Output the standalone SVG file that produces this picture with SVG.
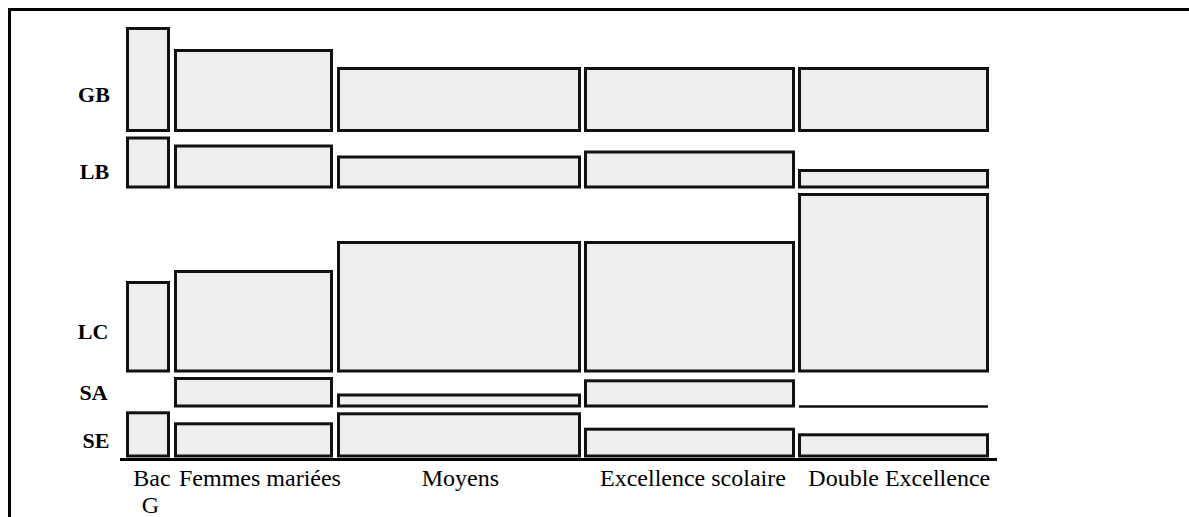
<svg xmlns="http://www.w3.org/2000/svg" width="1189" height="517" viewBox="0 0 1189 517">
<style>
.cell{fill:#eeeeee;stroke:#111111;stroke-width:3}
</style>
<rect width="1189" height="517" fill="#ffffff"/>
<path d="M9.5,517 V9.5 H1189" fill="none" stroke="#000" stroke-width="3"/>
<g id="row-labels" font-family="Liberation Serif, serif" font-weight="bold" font-size="22" text-anchor="middle" fill="#000">
<text x="94" y="101.7">GB</text>
<text x="94.5" y="179.3">LB</text>
<text x="93" y="339.3">LC</text>
<text x="93.5" y="400">SA</text>
<text x="96" y="448.3">SE</text>
</g>
<g font-family="Liberation Serif, serif" font-size="24" fill="#000">
<g id="col-bac">
<rect class="cell" x="127.5" y="28.5" width="41" height="102"/>
<rect class="cell" x="127.5" y="138" width="41" height="49"/>
<rect class="cell" x="127.5" y="282.5" width="41" height="88.5"/>
<rect class="cell" x="127.5" y="412.8" width="41" height="43.2"/>
<text x="133.3" y="485.7">Bac</text>
<text x="141.7" y="513">G</text>
</g>
<g id="col-femmes">
<rect class="cell" x="175.5" y="50.5" width="156" height="80"/>
<rect class="cell" x="175.5" y="146" width="156" height="41"/>
<rect class="cell" x="175.5" y="271.5" width="156" height="99.5"/>
<rect class="cell" x="175.5" y="378.5" width="156" height="27.5"/>
<rect class="cell" x="175.5" y="423.8" width="156" height="32.2"/>
<text x="179" y="485.7">Femmes mariées</text>
</g>
<g id="col-moyens">
<rect class="cell" x="338.5" y="68.5" width="241" height="62"/>
<rect class="cell" x="338.5" y="157" width="241" height="30"/>
<rect class="cell" x="338.5" y="242.5" width="241" height="128.5"/>
<rect class="cell" x="338.5" y="395" width="241" height="11"/>
<rect class="cell" x="338.5" y="413.8" width="241" height="42.2"/>
<text x="421.7" y="485.7">Moyens</text>
</g>
<g id="col-excellence">
<rect class="cell" x="585.5" y="68.5" width="208" height="62"/>
<rect class="cell" x="585.5" y="152" width="208" height="35"/>
<rect class="cell" x="585.5" y="242.5" width="208" height="128.5"/>
<rect class="cell" x="585.5" y="380.8" width="208" height="25.2"/>
<rect class="cell" x="585.5" y="429.2" width="208" height="26.8"/>
<text x="600" y="485.7">Excellence scolaire</text>
</g>
<g id="col-double">
<rect class="cell" x="799.5" y="68.5" width="188" height="62"/>
<rect class="cell" x="799.5" y="170.5" width="188" height="16.5"/>
<rect class="cell" x="799.5" y="194.5" width="188" height="176.5"/>
<line x1="799" y1="406.5" x2="988" y2="406.5" stroke="#111111" stroke-width="2.5"/>
<rect class="cell" x="799.5" y="434.8" width="188" height="21.2"/>
<text x="808.3" y="485.7">Double Excellence</text>
</g>
</g>
<g id="connectors">
<line x1="120" y1="459.5" x2="997" y2="459.5" stroke="#000" stroke-width="3"/>
</g>
</svg>
